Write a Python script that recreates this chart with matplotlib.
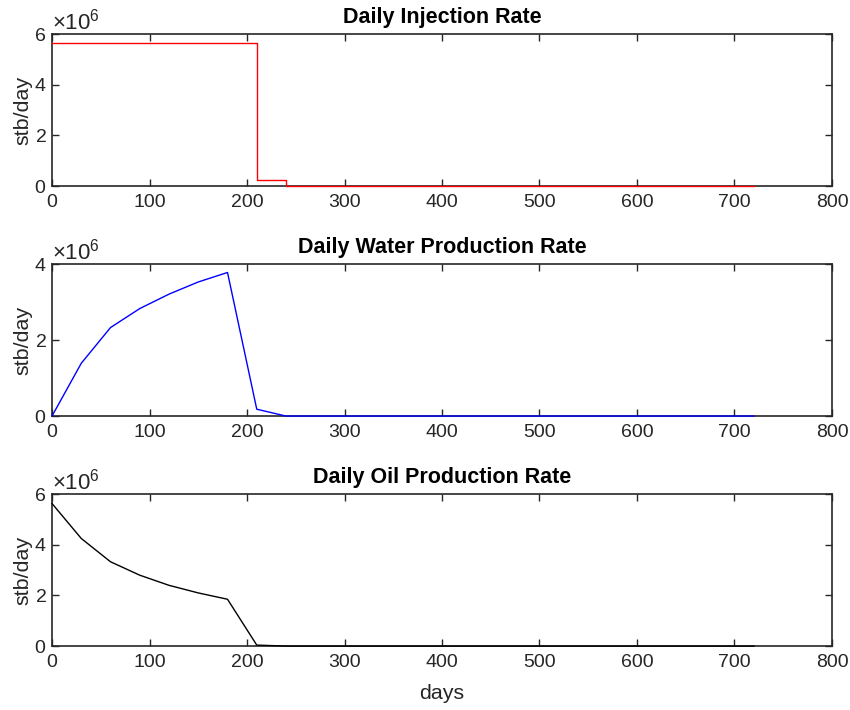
import numpy as np
import matplotlib.pyplot as plt
from matplotlib.ticker import ScalarFormatter

plt.rcParams['font.family'] = ['Liberation Sans', 'DejaVu Sans']
plt.rcParams['mathtext.fontset'] = 'custom'
plt.rcParams['mathtext.rm'] = 'Liberation Sans'
plt.rcParams['mathtext.it'] = 'Liberation Sans'

# time steps (days), every 30 days up to 720
days = list(range(0, 721, 30))

# daily injection rate (stb/day), piecewise constant
inj = [5.65e6] * 7 + [0.25e6] + [0.0] * 17

# daily water production rate (stb/day)
water = [0.0, 1.39e6, 2.33e6, 2.83e6, 3.21e6, 3.53e6, 3.78e6, 0.18e6] + [0.0] * 17

# daily oil production rate (stb/day)
oil = [5.63e6, 4.25e6, 3.33e6, 2.80e6, 2.40e6, 2.10e6, 1.85e6, 0.04e6] + [0.0] * 17

titles = ['Daily Injection Rate', 'Daily Water Production Rate', 'Daily Oil Production Rate']
ylims = [6e6, 4e6, 6e6]
yticks = [[0, 2e6, 4e6, 6e6], [0, 2e6, 4e6], [0, 2e6, 4e6, 6e6]]

fig = plt.figure(figsize=(8.5, 7.1), dpi=100)
bottoms = [0.738, 0.414, 0.090]
axc = '#262626'

for i in range(3):
    ax = fig.add_axes([0.0612, bottoms[i], 0.9176, 0.214])
    if i == 0:
        ax.step(days, inj, where='post', color='red', linewidth=1, clip_on=False, zorder=3)
    elif i == 1:
        ax.plot(days, water, color='blue', linewidth=1, clip_on=False, zorder=3)
    else:
        ax.plot(days, oil, color='black', linewidth=1, clip_on=False, zorder=3)
    ax.set_xlim(0, 800)
    ax.set_ylim(0, ylims[i])
    ax.set_xticks(range(0, 801, 100))
    ax.set_yticks(yticks[i])
    fmt = ScalarFormatter(useMathText=True)
    fmt.set_powerlimits((0, 0))
    ax.yaxis.set_major_formatter(fmt)
    ax.yaxis.get_offset_text().set_fontsize(16)
    ax.yaxis.get_offset_text().set_color(axc)
    ax.tick_params(direction='in', length=5, width=1, top=True, right=True,
                   labelsize=14, colors=axc)
    ax.tick_params(axis='x', pad=6)
    ax.tick_params(axis='y', pad=4)
    for s in ax.spines.values():
        s.set_linewidth(1.2)
        s.set_color(axc)
    ax.set_title(titles[i], fontsize=15.5, fontweight='bold', pad=8)
    ax.set_ylabel('stb/day', fontsize=15.4, color=axc, labelpad=1)
    if i == 2:
        ax.set_xlabel('days', fontsize=15.4, color=axc, labelpad=9)

fig.savefig('out.png', dpi=100)
